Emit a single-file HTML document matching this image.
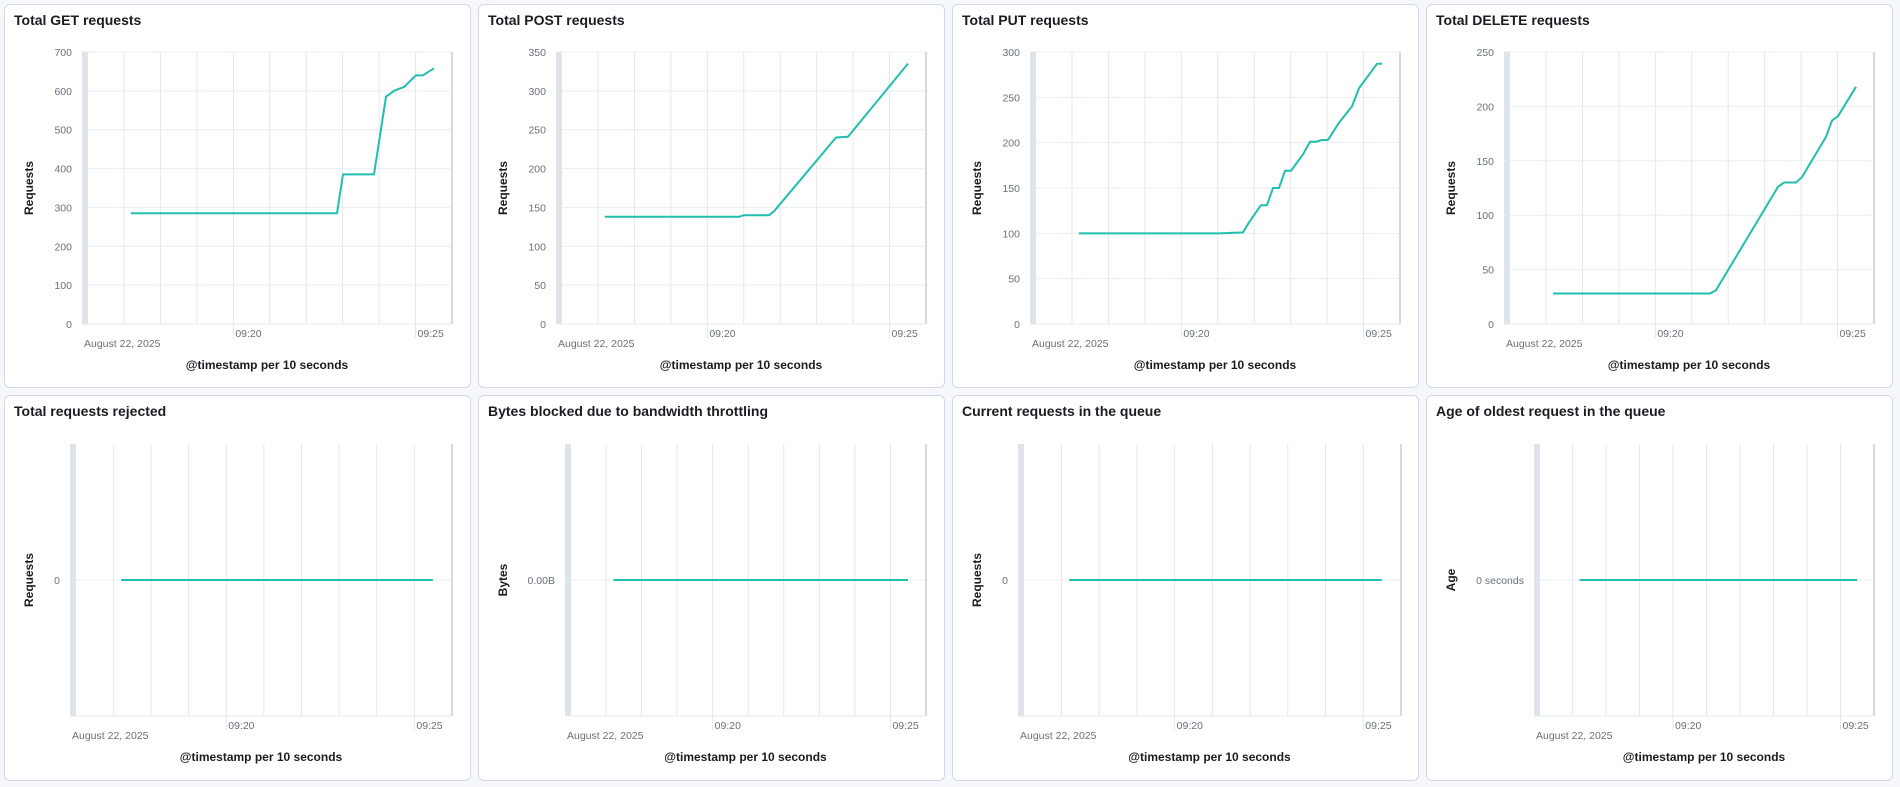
<!DOCTYPE html>
<html><head><meta charset="utf-8"><style>
body{margin:0;width:1900px;height:787px;background:#f5f7fa;font-family:"Liberation Sans",sans-serif;overflow:hidden;position:relative}
.p{position:absolute;background:#fff;border:1px solid #d3dae6;border-radius:6px;box-sizing:border-box}
.t{position:absolute;left:9px;top:7px;font-size:14px;font-weight:bold;color:#1a1c21}
svg{position:absolute;left:0;top:0}
</style></head><body>
<div id="root"></div>
<script>
(function(){
const C=[4,478,952,1426], W=467;
const TOPS=[
 {t:"Total GET requests",max:700,step:100,d:[[49,285],[255,285],[261,385],[292,385],[304,585],[312,600],[322,610],[334,640],[341,640],[352,658]]},
 {t:"Total POST requests",max:350,step:50,d:[[49,138],[183,138],[188,140],[213,140],[218,145],[280,240],[292,241],[352,335]]},
 {t:"Total PUT requests",max:300,step:50,d:[[49,100],[189,100],[213,101],[219,112],[231,131],[237,131],[243,150],[249,150],[255,169],[261,169],[273,187],[280,201],[286,201],[292,203],[298,203],[309,222],[322,240],[329,260],[347,287],[352,287]]},
 {t:"Total DELETE requests",max:250,step:50,d:[[49,28],[206,28],[212,31],[274,126],[280,130],[292,130],[298,135],[322,172],[328,187],[334,191],[352,218]]}
];
const BOTS=[
 {t:"Total requests rejected",L:65,w:382,lab:"0",yt:"Requests"},
 {t:"Bytes blocked due to bandwidth throttling",L:86,w:361,lab:"0.00B",yt:"Bytes"},
 {t:"Current requests in the queue",L:65,w:383,lab:"0",yt:"Requests"},
 {t:"Age of oldest request in the queue",L:107,w:340,lab:"0 seconds",yt:"Age"}
];
const tick='font-size="10.5" fill="#69707d" font-family="Liberation Sans,sans-serif"';
function xaxis(L,w,T,B){
 let s='';
 s+=`<rect x="${L}" y="${T}" width="6" height="${B-T}" fill="#dfe3ea"/>`;
 for(let k=0;k<10;k++){let x=L+w*(0.1135+k*0.0985);if(k==9)x=L+w;
  s+=`<line x1="${x}" y1="${T}" x2="${x}" y2="${B+((k==3||k==8)?14:0)}" stroke="#e3e8f0" stroke-width="1"/>`;
  if(k==3)s+=`<text x="${x+2}" y="${B+13}" ${tick}>09:20</text>`;
  if(k==8)s+=`<text x="${x+2}" y="${B+13}" ${tick}>09:25</text>`;}
 s+=`<line x1="${L+w}" y1="${T}" x2="${L+w}" y2="${B}" stroke="#d3dae6" stroke-width="2"/>`;
 s+=`<line x1="${L}" y1="${B}" x2="${L+w}" y2="${B}" stroke="#e3e8f0"/>`;
 s+=`<text x="${L+2}" y="${B+23}" ${tick}>August 22, 2025</text>`;
 s+=`<text x="${L+w/2}" y="${B+45}" text-anchor="middle" font-size="12" font-weight="bold" fill="#1a1c21" font-family="Liberation Sans,sans-serif">@timestamp per 10 seconds</text>`;
 return s;}
let h='';
TOPS.forEach((p,i)=>{
 const L=77,w=370,T=47,B=319;
 let s=`<svg width="${W}" height="384">`;
 for(let v=0;v<=p.max;v+=p.step){const y=B-(v/p.max)*(B-T);
  s+=`<line x1="${L}" y1="${y}" x2="${L+w}" y2="${y}" stroke="#e9edf3"/>`;
  s+=`<text x="${L-10}" y="${y+4}" text-anchor="end" ${tick}>${v}</text>`;}
 s+=xaxis(L,w,T,B);
 s+=`<polyline fill="none" stroke="#20bfae" stroke-width="2" stroke-linejoin="round" points="${p.d.map(a=>(L+a[0])+','+(B-(a[1]/p.max)*(B-T))).join(' ')}"/>`;
 s+=`<text transform="translate(28,${(T+B)/2}) rotate(-90)" text-anchor="middle" font-size="12" font-weight="bold" fill="#1a1c21" font-family="Liberation Sans,sans-serif">Requests</text>`;
 s+='</svg>';
 h+=`<div class="p" style="left:${C[i]}px;top:4px;width:${W}px;height:384px">${s}<div class="t">${p.t}</div></div>`;
});
BOTS.forEach((p,i)=>{
 const L=p.L,w=p.w,T=48,B=320,Z=184;
 let s=`<svg width="${W}" height="386">`;
 s+=`<line x1="${L}" y1="${Z}" x2="${L+w}" y2="${Z}" stroke="#e9edf3"/>`;
 s+=xaxis(L,w,T,B);
 s+=`<text x="${L-10}" y="${Z+4}" text-anchor="end" ${tick}>${p.lab}</text>`;
 s+=`<line x1="${L+w*0.134}" y1="${Z}" x2="${L+w*0.95}" y2="${Z}" stroke="#20bfae" stroke-width="2"/>`;
 s+=`<text transform="translate(28,${Z}) rotate(-90)" text-anchor="middle" font-size="12" font-weight="bold" fill="#1a1c21" font-family="Liberation Sans,sans-serif">${p.yt}</text>`;
 s+='</svg>';
 h+=`<div class="p" style="left:${C[i]}px;top:395px;width:${W}px;height:386px">${s}<div class="t">${p.t}</div></div>`;
});
document.getElementById('root').innerHTML=h;
})();
</script>
</body></html>
